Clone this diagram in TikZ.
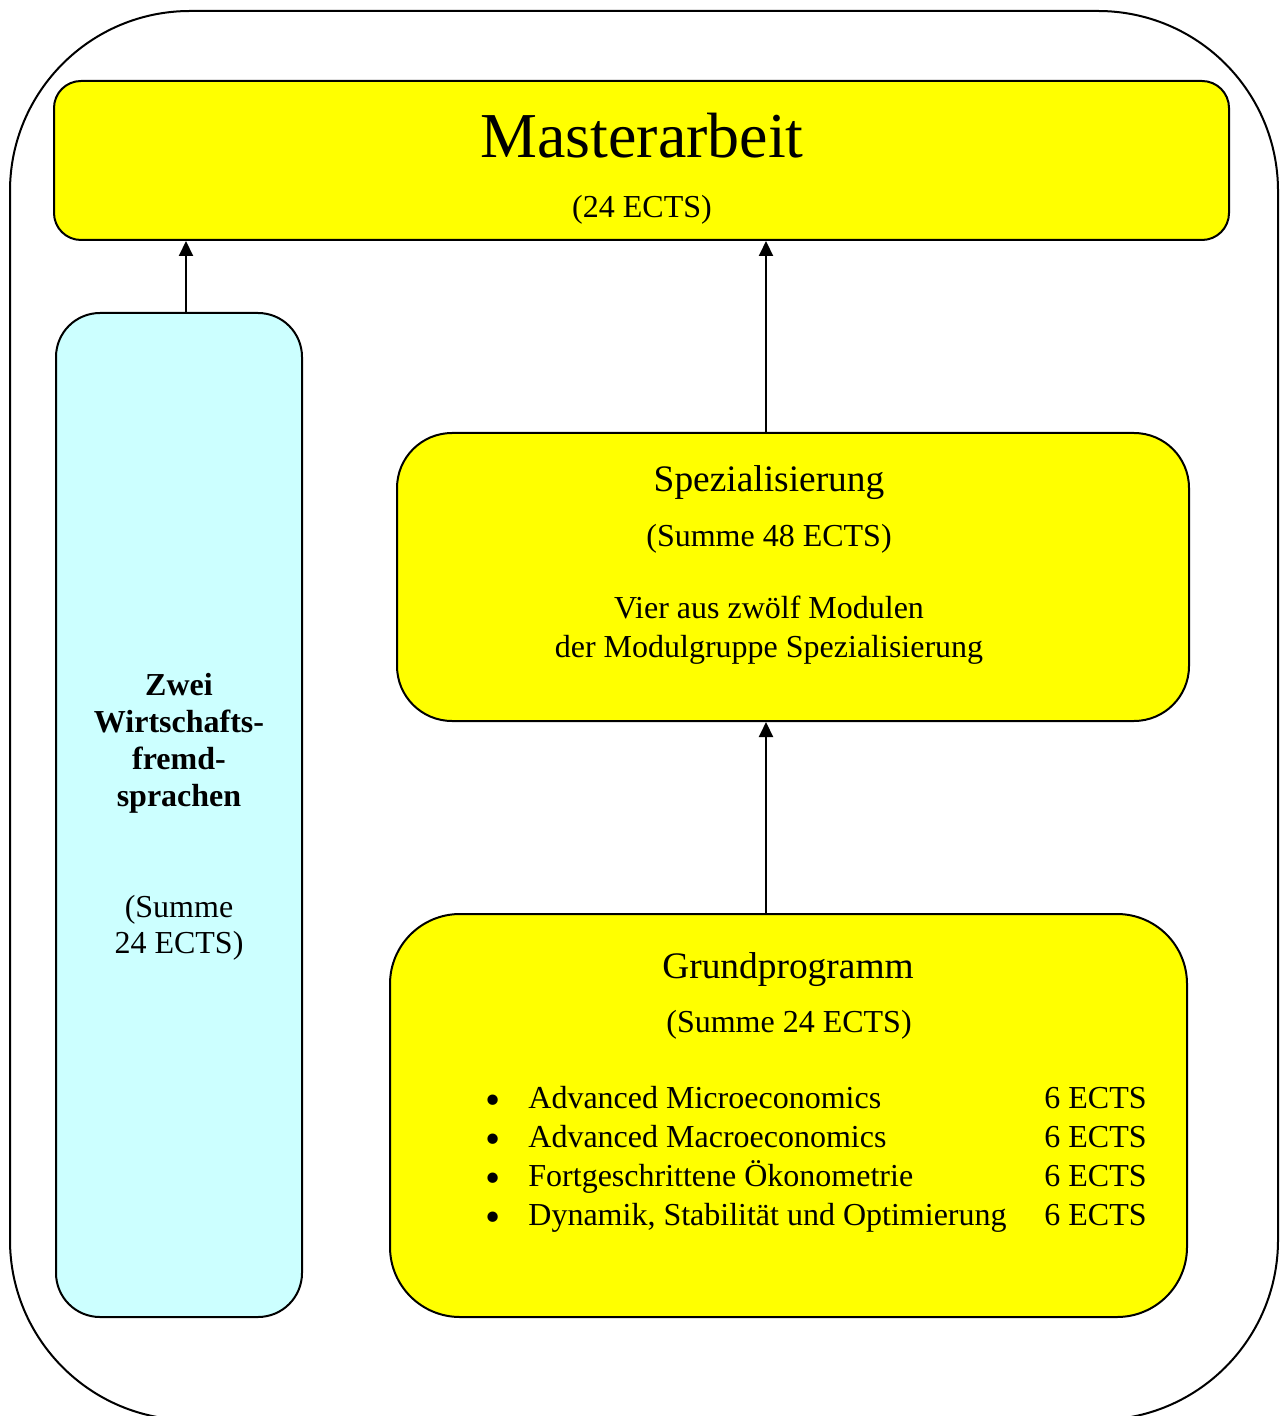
\documentclass[tikz,border=0pt]{standalone}
\usepackage{fontspec}
\setmainfont{Liberation Serif}
\usetikzlibrary{arrows.meta}
\definecolor{hellcyan}{RGB}{204,255,255}
\definecolor{gelb}{RGB}{255,255,0}

\begin{document}
\begin{tikzpicture}[x=0.5pt,y=-0.5pt,
    box/.style={draw,line width=1pt,inner sep=0pt},
    txt/.style={inner sep=0pt,anchor=base,font=\fontsize{16}{19.5}\selectfont},
    titel/.style={txt,font=\fontsize{18.7}{22}\selectfont},
    arr/.style={line width=1pt,-{Triangle[length=7.5pt,width=7pt]}}]
      \useasboundingbox (0,0) rectangle (1282,1416);
      \clip (0,0) rectangle (1282,1416);
      \draw[line width=1pt,rounded corners=90pt] (10,11) rectangle (1278,1420);
      \node[box,fill=gelb,rounded corners=13.5pt,minimum width=587.5pt,minimum height=79.5pt] (master) at (641.5,160.5) {};
      \node[box,fill=hellcyan,rounded corners=22pt,minimum width=123pt,minimum height=502pt] (fremd) at (179,815) {};
      \node[box,fill=gelb,rounded corners=27.5pt,minimum width=396pt,minimum height=144pt] (spez) at (793,577) {};
      \node[box,fill=gelb,rounded corners=35pt,minimum width=398.5pt,minimum height=201.5pt] (grund) at (788.5,1115.5) {};
      \coordinate (c1) at (186,0);
      \coordinate (c2) at (766,0);
      \draw[arr] (fremd.north -| c1) -- (master.south -| c1);
      \draw[arr] (spez.north -| c2) -- (master.south -| c2);
      \draw[arr] (grund.north -| c2) -- (spez.south -| c2);
      \node[txt,font=\fontsize{32}{38}\selectfont] (m1) at (642,158) {Masterarbeit};
      \node[txt] (m2) at (642,218) {(24 ECTS)};
      \node[txt,font=\fontsize{16}{18.5}\selectfont\bfseries,align=center,anchor=north] (f1) at (179,673) {Zwei\\Wirtschafts-\\fremd-\\sprachen};
      \node[txt,font=\fontsize{16}{18}\selectfont,align=center,anchor=north] (f2) at (179,895) {(Summe\\24 ECTS)};
      \node[titel] (s1) at (769,492) {Spezialisierung};
      \node[txt] (s2) at (769,546) {(Summe 48 ECTS)};
      \node[txt] (s3) at (769,618) {Vier aus zwölf Modulen};
      \node[txt] (s4) at (769,657) {der Modulgruppe Spezialisierung};
      \node[titel] (g1) at (788,978) {Grundprogramm};
      \node[txt] (g2) at (789,1032) {(Summe 24 ECTS)};
      \foreach \y/\name [count=\i] in {1108/Advanced Microeconomics,1147/Advanced Macroeconomics,1186/Fortgeschrittene Ökonometrie,1225/{Dynamik, Stabilität und Optimierung}} {
        \node[txt] (b\i) at (493,\y) {\raisebox{-3.3pt}{\scalebox{1.35}{\textbullet}}};
        \node[txt,anchor=base west] (k\i) at (528,\y) {\name};
        \node[txt,anchor=base west] (e\i) at (1044,\y) {6 ECTS};
      }
    \end{tikzpicture}
\end{document}
